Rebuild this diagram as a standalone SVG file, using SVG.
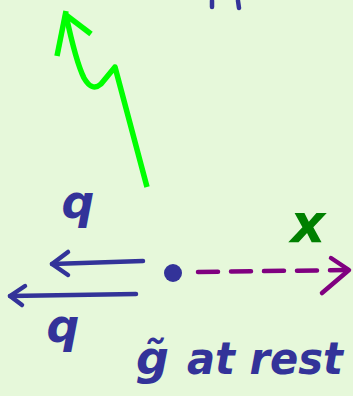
<svg xmlns="http://www.w3.org/2000/svg" width="353" height="396" viewBox="0 0 353 396">
<style>
.bg{fill:#e6f8da}
.blue{stroke:#333399;stroke-width:4.5;stroke-linecap:round;stroke-linejoin:round;fill:none}
.green{stroke:#00ff00;stroke-width:5.5;stroke-linecap:butt;stroke-linejoin:round;fill:none}
.purple{stroke:#800080;stroke-width:4.5;stroke-linecap:round;stroke-linejoin:round;fill:none}
.lbl{font-family:"DejaVu Sans",sans-serif;font-style:italic;font-weight:bold;fill:#333399}
.lx{font-family:"DejaVu Sans",sans-serif;font-style:italic;font-weight:bold;fill:#008000}
</style>
<rect class="bg" x="0" y="0" width="353" height="396"/>
<g id="connectors">
  <g id="gluon">
    <path class="green" d="M147,187 L115,67 L101,84 Q92,92 84,78 Q76,62 66,15"/>
    <path class="green" d="M57,56 L66,11"/>
    <path class="green" d="M66,15 L91,34"/>
  </g>
  <g id="q-upper-arrow">
    <path class="blue" d="M143,261 L52,264"/>
    <path class="blue" d="M68,252 L52,264 L68,275"/>
  </g>
  <g id="q-lower-arrow">
    <path class="blue" d="M136,294 L10,296"/>
    <path class="blue" d="M25,286 L10,296 L22,305"/>
  </g>
  <g id="x-arrow">
    <path class="purple" d="M198,272 L348,270" stroke-dasharray="20,13"/>
    <path class="purple" d="M331,258 L349,270 L322,293"/>
  </g>
</g>
<g id="top-fragment">
  <path class="blue" d="M212,1 L212,7"/>
  <path class="blue" d="M238,1 L239,8"/>
</g>
<g id="gtilde-dot">
  <circle cx="173" cy="273" r="9" fill="#333399"/>
</g>
<g id="label-q-top"><text class="lbl" x="78" y="218" font-size="46" text-anchor="middle">q</text></g>
<g id="label-q-bottom"><text class="lbl" x="63" y="342" font-size="46" text-anchor="middle">q</text></g>
<g id="label-x"><text class="lx" x="308" y="242" font-size="54" text-anchor="middle">x</text></g>
<g id="label-rest">
  <text class="lbl" x="136" y="374" font-size="46">g̃</text>
  <text class="lbl" x="187" y="374" font-size="44" textLength="156" lengthAdjust="spacingAndGlyphs">at rest</text>
</g>
</svg>
